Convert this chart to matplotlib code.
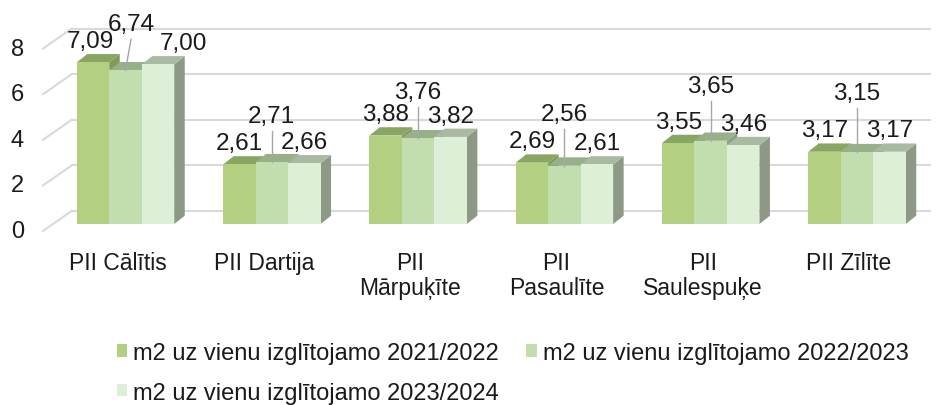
import matplotlib.pyplot as plt
from matplotlib.patches import Polygon, Patch

# dati
kategorijas = ["PII Cālītis", "PII Dartija", "PII\nMārpuķīte", "PII\nPasaulīte",
               "PII\nSaulespuķe", "PII Zīlīte"]
sezonas = ["m2 uz vienu izglītojamo 2021/2022",
           "m2 uz vienu izglītojamo 2022/2023",
           "m2 uz vienu izglītojamo 2023/2024"]
v_2122 = [7.09, 2.61, 3.88, 2.69, 3.55, 3.17]
v_2223 = [6.74, 2.71, 3.76, 2.56, 3.65, 3.15]
v_2324 = [7.00, 2.66, 3.82, 2.61, 3.46, 3.17]
y_ticks = [0, 2, 4, 6, 8]

serijas = [v_2122, v_2223, v_2324]
c_front = ['#b2d080', '#c3deae', '#deefd8']
c_top = ['#88a662', '#98b089', '#aabaa2']
c_side = ['#7f9b5c', '#8ca27e', '#8d9886']

plt.rcParams['font.family'] = ['Liberation Sans', 'DejaVu Sans']

W, H = 937, 406
fig = plt.figure(figsize=(W / 100, H / 100), dpi=100)

# px uz datu vienibam
PX_X = 146.3
PX_Y = 22.8
L, R, T, B = 30, 937, 0, 310
ax = fig.add_axes([L / W, (H - B) / H, (R - L) / W, (B - T) / H])
ax.set_xlim((L - 125.5) / PX_X, (R - 125.5) / PX_X)
ax.set_ylim((225 - B) / PX_Y, (225 - T) / PX_Y)
ax.axis('off')

def px(dx, dy):
    return dx / PX_X, dy / PX_Y

bw = 32.5 / PX_X
dep_x, dep_y = px(10.5, 8.3)       # bara dzilums
wall_x, wall_y = px(18.7, 13)      # aizmugures siena
fr_x, fr_y = px(-10, -7)           # prieksejā plakne
x_left_front = (43 - 125.5) / PX_X
x_right_back = (930 - 125.5) / PX_X

# rezga linijas
for v in y_ticks:
    ax.plot([x_left_front, x_left_front - fr_x + wall_x],
            [v + fr_y, v + wall_y], color='#d9d9d9', lw=1.5, zorder=1)
    ax.plot([x_left_front - fr_x + wall_x, x_right_back],
            [v + wall_y, v + wall_y], color='#d9d9d9', lw=1.5, zorder=1)
    ax.text(x_left_front - 19 / PX_X, v + fr_y, str(v), ha='right', va='center',
            fontsize=17, color='#1a1a1a')

# stabini
for j, vals in enumerate(serijas):
    xs = [i - 1.5 * bw + j * bw for i in range(len(vals))]
    for x0, v in zip(xs, vals):
        ax.add_patch(Polygon([(x0 + bw, 0), (x0 + bw + dep_x, dep_y),
                              (x0 + bw + dep_x, v + dep_y), (x0 + bw, v)],
                             closed=True, facecolor=c_side[j], lw=0, zorder=3 + j))
        ax.add_patch(Polygon([(x0, v), (x0 + bw, v), (x0 + bw + dep_x, v + dep_y),
                              (x0 + dep_x, v + dep_y)],
                             closed=True, facecolor=c_top[j], lw=0, zorder=3 + j))
    ax.bar(xs, vals, width=bw, align='edge', color=c_front[j], lw=0, zorder=3 + j)

# datu etiketes
x_shift = [[-3, 5.5, 25], [0, 0, 0], [0, 0, 0], [0, 0, 0], [0, 0, 0], [0, 0, 0]]
mid_raise = [40, 40.5, 40, 45.5, 49, 53]
for i in range(len(kategorijas)):
    for j, vals in enumerate(serijas):
        v = vals[i]
        xc = i - 1.5 * bw + (j + 0.5) * bw
        xl = xc + x_shift[i][j] / PX_X
        txt = f"{v:.2f}".replace('.', ',')
        if j == 1:
            yl = v + mid_raise[i] / PX_Y
            ax.plot([xl, xc], [yl - 9 / PX_Y, v], color='#a6a6a6', lw=1, zorder=8)
        else:
            yl = v + dep_y + 7 / PX_Y
        ax.text(xl, yl, txt, ha='center', va='baseline', fontsize=17.5,
                color='#1a1a1a', zorder=9)

# kategoriju nosaukumi
for i, k in enumerate(kategorijas):
    ax.text(i + fr_x + 2 / PX_X, -27 / PX_Y, k, ha='center', va='top',
            fontsize=16.5, color='#1a1a1a', linespacing=1.12)

handles = [Patch(facecolor=c, edgecolor='none') for c in c_front]
order = [0, 2, 1]
fig.legend([handles[k] for k in order], [sezonas[k] for k in order],
           loc='upper left', bbox_to_anchor=(105 / W, (H - 331) / H), ncol=2,
           frameon=False, fontsize=17, handlelength=0.45, handleheight=0.45,
           handletextpad=0.25, columnspacing=1.15, labelspacing=0.75, borderpad=0,
           labelcolor='#1a1a1a')

fig.savefig('out.png', dpi=100)
